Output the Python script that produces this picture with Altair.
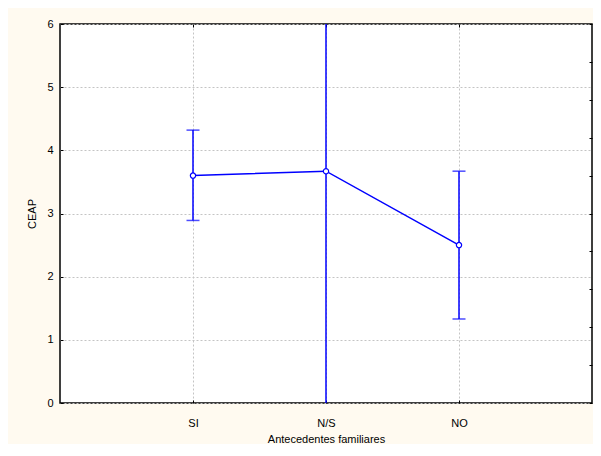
import altair as alt
import pandas as pd

groups = ["SI", "N/S", "NO"]
means = [3.60, 3.67, 2.50]
lower = [2.89, -4.0, 1.33]
upper = [4.32, 11.3, 3.67]
y_ticks = [0, 1, 2, 3, 4, 5, 6]
right_ticks = [0, 0.6, 1.2, 1.8, 2.4, 3.0, 3.6, 4.2, 4.8, 5.4, 6.0]

df = pd.DataFrame({"grupo": groups, "media": means, "lo": lower, "hi": upper})

FONT = "Liberation Sans"
BLUE = "#0000ff"
GRID = "#c4c4c4"

xscale = alt.Scale(type="point", domain=groups, padding=1)
yscale = alt.Scale(domain=[0, 6], nice=False)

common = dict(labelFont=FONT, titleFont=FONT, labelFontSize=11, titleFontSize=11,
              titleFontWeight="normal", labelColor="black", titleColor="black",
              tickColor="black", domain=False)

x_main = alt.X("grupo:N", scale=xscale, sort=groups,
               axis=alt.Axis(title="Antecedentes familiares", labelAngle=0, grid=True,
                             gridColor=GRID, gridDash=[2, 2], ticks=True, tickSize=3,
                             offset=-3, labelPadding=14, titlePadding=5, **common))
y_main = alt.Y("media:Q", scale=yscale,
               axis=alt.Axis(title="CEAP", values=y_ticks, grid=True, gridColor=GRID,
                             gridDash=[2, 2], ticks=True, tickSize=3, offset=-3,
                             labelPadding=7, titlePadding=9, **common))

x_plain = alt.X("grupo:N", scale=xscale, sort=groups, axis=None)

base = alt.Chart(df)

axes_main = base.mark_point(opacity=0).encode(x=x_main, y=y_main)

axes_other = base.mark_point(opacity=0).encode(
    x=alt.X("grupo:N", scale=xscale, sort=groups,
            axis=alt.Axis(orient="top", title=None, labels=False, grid=False,
                          tickSize=3, offset=-3, **common)),
    y=alt.Y("media:Q", scale=yscale,
            axis=alt.Axis(orient="right", title=None, labels=False, grid=False,
                          values=right_ticks, tickSize=3, offset=-3, **common)),
)

rules = base.mark_rule(color=BLUE, strokeWidth=1.5, clip=True).encode(
    x=x_plain, y=alt.Y("lo:Q", scale=yscale, axis=None), y2="hi:Q")
cap_lo = base.mark_tick(color=BLUE, size=13, thickness=1.5, clip=True).encode(
    x=x_plain, y=alt.Y("lo:Q", scale=yscale, axis=None))
cap_hi = base.mark_tick(color=BLUE, size=13, thickness=1.5, clip=True).encode(
    x=x_plain, y=alt.Y("hi:Q", scale=yscale, axis=None))
line = base.mark_line(color=BLUE, strokeWidth=1.5).encode(
    x=x_plain, y=alt.Y("media:Q", scale=yscale, axis=None))
points = base.mark_point(shape="circle", filled=True, fill="white", stroke=BLUE,
                         strokeWidth=1.2, size=28, opacity=1).encode(
    x=x_plain, y=alt.Y("media:Q", scale=yscale, axis=None))

chart = alt.layer(axes_main, axes_other, rules, cap_lo, cap_hi, line, points).resolve_axis(
    x="independent", y="independent"
).properties(
    width=532, height=379,
    background="#fffaf0",
    padding={"left": 52, "top": 16, "right": 1, "bottom": 41},
    autosize=alt.AutoSizeParams(type="none"),
).configure_view(stroke="black", strokeWidth=1.5, fill="white")

chart.save("out.html", embed_options={"renderer": "svg", "actions": False})
